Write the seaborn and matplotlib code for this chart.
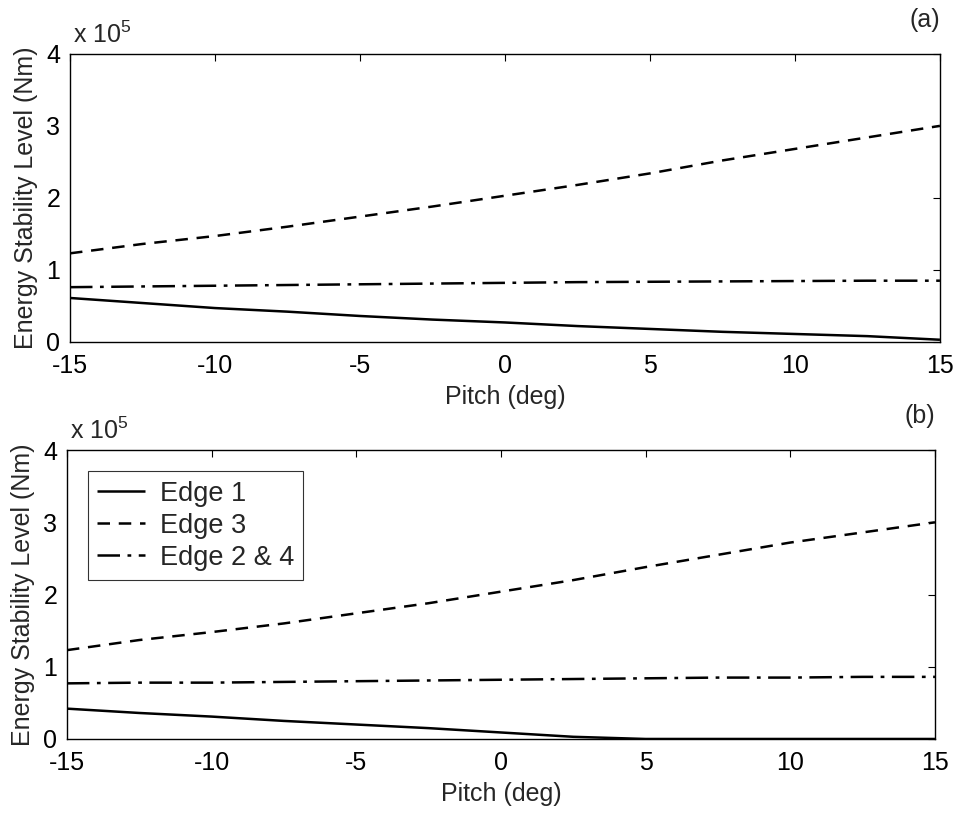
import numpy as np
import pandas as pd
import matplotlib
matplotlib.use("Agg")
import matplotlib.pyplot as plt
import seaborn as sns
from matplotlib.ticker import FuncFormatter

sns.set_style("white")
plt.rcParams['font.family'] = ['Liberation Sans', 'DejaVu Sans']
plt.rcParams['axes.unicode_minus'] = False
plt.rcParams['mathtext.fontset'] = 'custom'
plt.rcParams['mathtext.rm'] = 'Liberation Sans'
plt.rcParams['mathtext.it'] = 'Liberation Sans:italic'

pitch = [-15, -12.5, -10, -7.5, -5, -2.5, 0, 2.5, 5, 7.5, 10, 12.5, 15]

# Panel (a), values in units of 1e5 Nm
a_edge1 = [0.61, 0.54, 0.47, 0.42, 0.36, 0.31, 0.27, 0.22, 0.18, 0.14, 0.11, 0.08, 0.03]
a_edge3 = [1.23, 1.36, 1.47, 1.60, 1.74, 1.88, 2.03, 2.18, 2.34, 2.52, 2.68, 2.84, 3.00]
a_edge24 = [0.76, 0.77, 0.78, 0.79, 0.80, 0.81, 0.82, 0.83, 0.835, 0.84, 0.845, 0.85, 0.85]

# Panel (b)
b_edge1 = [0.42, 0.36, 0.31, 0.25, 0.20, 0.15, 0.09, 0.03, 0.0, 0.0, 0.0, 0.0, 0.0]
b_edge3 = [1.23, 1.37, 1.48, 1.60, 1.74, 1.88, 2.04, 2.20, 2.38, 2.55, 2.72, 2.86, 3.00]
b_edge24 = [0.77, 0.78, 0.78, 0.79, 0.80, 0.81, 0.82, 0.83, 0.84, 0.85, 0.85, 0.86, 0.86]

labels = ["Edge 1", "Edge 3", "Edge 2 & 4"]
panel_tags = ["(a)", "(b)"]
xticks = [-15, -10, -5, 0, 5, 10, 15]
yticks = [0, 1e5, 2e5, 3e5, 4e5]

fig = plt.figure(figsize=(9.56, 8.16), dpi=100)
ax1 = fig.add_axes([0.0732, 0.581, 0.910, 0.353])
ax2 = fig.add_axes([0.0700, 0.0944, 0.908, 0.354])

styles = [(0, ()), (0, (5, 3.5)), (0, (9, 3, 1.5, 3))]
FS = 18

for ax, series, tag, show_leg in [
    (ax1, [a_edge1, a_edge3, a_edge24], panel_tags[0], False),
    (ax2, [b_edge1, b_edge3, b_edge24], panel_tags[1], True),
]:
    for vals, lab, ls in zip(series, labels, styles):
        df = pd.DataFrame({"pitch": pitch, "energy": np.array(vals) * 1e5})
        sns.lineplot(data=df, x="pitch", y="energy", ax=ax, color="black",
                     linestyle=ls, linewidth=1.8, label=lab, legend=False)
    ax.set_xlim(-15, 15)
    ax.set_ylim(0, 4e5)
    ax.set_xticks(xticks)
    ax.set_yticks(yticks)
    ax.xaxis.set_major_formatter(FuncFormatter(lambda v, p: f"{v:g}"))
    ax.yaxis.set_major_formatter(FuncFormatter(lambda v, p: f"{v / 1e5:g}"))
    ax.tick_params(direction="in", length=5, width=0.8, labelsize=FS,
                   top=True, right=True, colors="black")
    ax.tick_params(axis="x", pad=9)
    ax.tick_params(axis="y", pad=7)
    for s in ax.spines.values():
        s.set_linewidth(1.0)
        s.set_color("black")
    ax.set_xlabel("Pitch (deg)", fontsize=FS, labelpad=5)
    ax.set_ylabel("Energy Stability Level (Nm)", fontsize=FS, labelpad=6)
    ax.text(0.003, 1.02, r"x 10$^{5}$", transform=ax.transAxes, ha="left",
            va="bottom", fontsize=FS)
    ax.text(1.0, 1.075, tag, transform=ax.transAxes, ha="right", va="bottom", fontsize=FS)
    if show_leg:
        leg = ax.legend(loc="upper left", bbox_to_anchor=(0.024, 0.927), fontsize=19.5,
                        frameon=True, fancybox=False, edgecolor="black",
                        borderaxespad=0, handlelength=1.75, handletextpad=0.55,
                        borderpad=0.35, labelspacing=0.22)
        leg.get_frame().set_linewidth(0.8)

fig.savefig("out.png", dpi=100)
